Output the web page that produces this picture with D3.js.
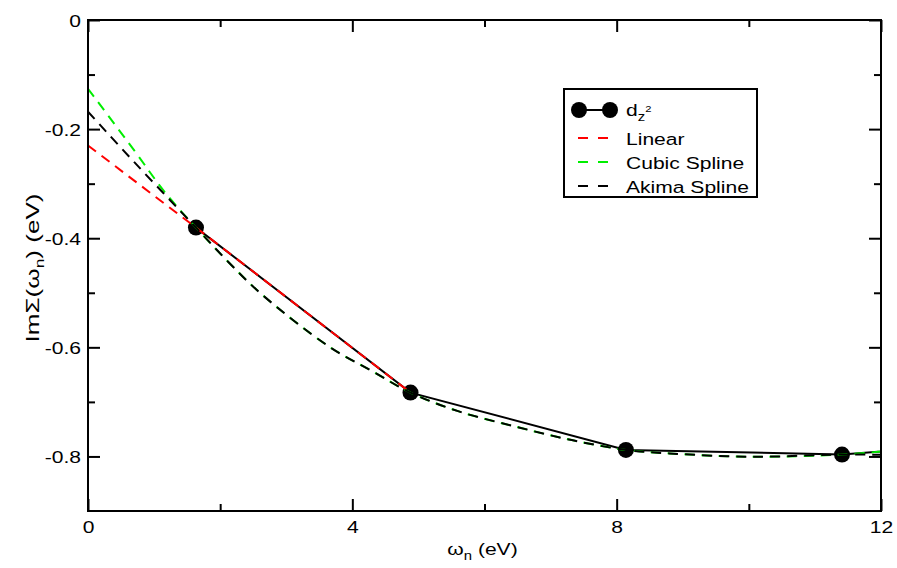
<!DOCTYPE html>
<html>
<head>
<meta charset="utf-8">
<script src="https://cdn.jsdelivr.net/npm/d3@7"></script>
<style>
  body { margin: 0; background: #fff; }
  svg text { font-family: "Liberation Sans", Arial, sans-serif; }
</style>
</head>
<body>
<svg id="chart" width="897" height="568"></svg>
<script>
// ---- data ----
const omegaN   = [1.634, 4.88, 8.14, 11.41, 14.67];
const imSigma  = [-0.3805, -0.683, -0.788, -0.7965, -0.766];

const linearX  = [0, 1.634, 4.88];
const linearY  = [-0.230, -0.3805, -0.683];

const cubicX   = [0, 0.711, 1.165, 1.634, 2.12, 2.63, 3.64, 4.29, 4.88, 5.6, 6.46, 7.32, 8.14, 8.8, 10.06, 11.41, 12];
const cubicY   = [-0.126, -0.241, -0.316, -0.3805, -0.443, -0.503, -0.598, -0.643, -0.683, -0.717, -0.745, -0.770, -0.788, -0.7945, -0.8005, -0.7965, -0.791];

const akimaX   = [0, 0.711, 1.634, 2.12, 2.63, 3.64, 4.29, 4.88, 5.6, 6.46, 7.32, 8.14, 8.8, 10.06, 11.41, 12];
const akimaY   = [-0.168, -0.262, -0.3805, -0.443, -0.503, -0.598, -0.643, -0.683, -0.717, -0.745, -0.770, -0.788, -0.7945, -0.8005, -0.7965, -0.797];

const xTicks = [0, 4, 8, 12], xMinor = [2, 6, 10];
const yTicks = [0, -0.2, -0.4, -0.6, -0.8], yMinor = [-0.1, -0.3, -0.5, -0.7];

const svg = d3.select("#chart"),
    width = +svg.attr("width"),
    height = +svg.attr("height"),
    margin = { top: 20, right: 16, bottom: 57, left: 88 },
    w = width - margin.left - margin.right,
    h = height - margin.top - margin.bottom;

const sx = 1.24; // glyphs in the reference are stretched sideways
const fs = 17;

const g = svg.append("g").attr("transform", `translate(${margin.left},${margin.top})`);

const x = d3.scaleLinear().domain([0, 12]).range([0, w]);
const y = d3.scaleLinear().domain([-0.9, 0]).range([h, 0]);

svg.append("defs").append("clipPath").attr("id", "clip")
  .append("rect").attr("width", w).attr("height", h);

const plot = g.append("g").attr("clip-path", "url(#clip)");
const zip = (a, b) => a.map((v, i) => [v, b[i]]);
const line = d3.line().x(d => x(d[0])).y(d => y(d[1]));
const smooth = d3.line().x(d => x(d[0])).y(d => y(d[1])).curve(d3.curveCatmullRom.alpha(0.5));

// solid data line + markers
plot.append("path").datum(zip(omegaN, imSigma))
  .attr("d", line).attr("fill", "none").attr("stroke", "#000").attr("stroke-width", 2);
plot.selectAll("circle.pt").data(zip(omegaN, imSigma)).join("circle")
  .attr("class", "pt").attr("cx", d => x(d[0])).attr("cy", d => y(d[1])).attr("r", 8).attr("fill", "#000");

// interpolations
plot.append("path").datum(zip(linearX, linearY))
  .attr("d", line).attr("fill", "none").attr("stroke", "#ff0000").attr("stroke-width", 2).attr("stroke-dasharray", "10,7");
plot.append("path").datum(zip(cubicX, cubicY))
  .attr("d", smooth).attr("fill", "none").attr("stroke", "#00ee00").attr("stroke-width", 2).attr("stroke-dasharray", "10,7");
plot.append("path").datum(zip(akimaX, akimaY))
  .attr("d", smooth).attr("fill", "none").attr("stroke", "#000").attr("stroke-width", 2).attr("stroke-dasharray", "10,7");

// axes (ticks point inward on all four sides)
function tickStyle(sel) {
  sel.select(".domain").remove();
  sel.selectAll(".tick line").attr("stroke", "#000").attr("stroke-width", 2);
}
g.append("g").attr("transform", `translate(0,${h})`)
  .call(d3.axisBottom(x).tickValues(xTicks).tickSize(-12).tickFormat(d3.format("d")))
  .call(tickStyle)
  .call(s => s.selectAll("text").attr("y", 22).attr("dy", 0)
    .attr("transform", `scale(${sx},1)`).attr("fill", "#000")
    .style("font-size", fs + "px").style("font-family", "Liberation Sans, Arial, sans-serif"));
g.append("g").attr("transform", `translate(0,${h})`)
  .call(d3.axisBottom(x).tickValues(xMinor).tickSize(-7).tickFormat("")).call(tickStyle);
g.append("g").call(d3.axisTop(x).tickValues(xTicks).tickSize(-12).tickFormat("")).call(tickStyle);
g.append("g").call(d3.axisTop(x).tickValues(xMinor).tickSize(-7).tickFormat("")).call(tickStyle);

g.append("g")
  .call(d3.axisLeft(y).tickValues(yTicks).tickSize(-12).tickPadding(7)
    .tickFormat(d => d === 0 ? "0" : d.toFixed(1)))
  .call(tickStyle)
  .call(s => s.selectAll("text").attr("x", -7 / sx).attr("dy", "0.36em")
    .attr("transform", `scale(${sx},1)`).attr("fill", "#000")
    .style("font-size", fs + "px").style("font-family", "Liberation Sans, Arial, sans-serif"));
g.append("g").call(d3.axisLeft(y).tickValues(yMinor).tickSize(-7).tickFormat("")).call(tickStyle);
g.append("g").attr("transform", `translate(${w},0)`)
  .call(d3.axisRight(y).tickValues(yTicks).tickSize(-12).tickFormat("")).call(tickStyle);
g.append("g").attr("transform", `translate(${w},0)`)
  .call(d3.axisRight(y).tickValues(yMinor).tickSize(-7).tickFormat("")).call(tickStyle);

// frame
g.append("rect").attr("width", w).attr("height", h)
  .attr("fill", "none").attr("stroke", "#000").attr("stroke-width", 2);

// axis titles
const xt = svg.append("text")
  .attr("transform", `translate(${margin.left + w / 2 - 2},555) scale(${sx},1)`)
  .attr("text-anchor", "middle").style("font-size", fs + "px");
xt.append("tspan").text("ω");
xt.append("tspan").attr("dy", 5).style("font-size", "12px").text("n");
xt.append("tspan").attr("dy", -5).text(" (eV)");

const yt = svg.append("text")
  .attr("transform", `translate(39,268) rotate(-90) scale(1.45,1)`)
  .attr("text-anchor", "middle").style("font-size", "18px");
yt.append("tspan").text("ImΣ(ω");
yt.append("tspan").attr("dy", 5).style("font-size", "12px").text("n");
yt.append("tspan").attr("dy", -5).text(") (eV)");

// legend
const legend = svg.append("g").attr("transform", "translate(564,89)");
legend.append("rect").attr("width", 193).attr("height", 108)
  .attr("fill", "#fff").attr("stroke", "#000").attr("stroke-width", 2);

const rows = [
  { label: "Linear", color: "#ff0000" },
  { label: "Cubic Spline", color: "#00ee00" },
  { label: "Akima Spline", color: "#000" }
];
// first row: the data series symbol
legend.append("line").attr("x1", 15).attr("x2", 46).attr("y1", 21).attr("y2", 21)
  .attr("stroke", "#000").attr("stroke-width", 2);
[15, 46].forEach(cx => legend.append("circle").attr("cx", cx).attr("cy", 21).attr("r", 8).attr("fill", "#000"));
const dz = legend.append("text").attr("transform", `translate(62,27) scale(${sx},1)`).style("font-size", fs + "px");
dz.append("tspan").text("d");
dz.append("tspan").attr("dy", 5).style("font-size", "12px").text("z");
dz.append("tspan").attr("dy", -9).style("font-size", "9px").text("2");

rows.forEach((r, i) => {
  const yy = 49 + i * 24;
  legend.append("line").attr("x1", 14).attr("x2", 45).attr("y1", yy).attr("y2", yy)
    .attr("stroke", r.color).attr("stroke-width", 2).attr("stroke-dasharray", "10,10");
  legend.append("text").attr("transform", `translate(62,${yy + 7}) scale(${sx},1)`)
    .style("font-size", fs + "px").text(r.label);
});
</script>
</body>
</html>
